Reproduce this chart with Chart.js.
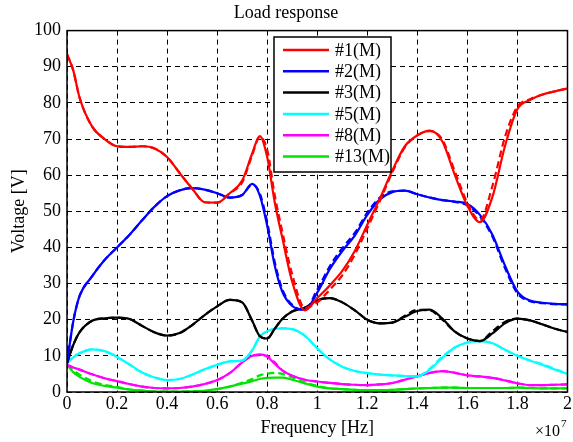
<!DOCTYPE html>
<html lang="en">
<head>
    <meta charset="UTF-8">
    <title>Load response</title>
    <script src="https://cdn.jsdelivr.net/npm/chart.js@4.4.1/dist/chart.umd.min.js"></script>
    <style>
        html, body { margin: 0; padding: 0; background: #fff; }
        #wrap { width: 573px; height: 442px; }
    </style>
</head>
<body>
    <div id="wrap"><canvas id="loadChart" width="573" height="442"></canvas></div>

    <script>
        // frequency in units of 1e7 Hz (axis shows x10^7)
        const freq = [0, 0.025, 0.05, 0.1, 0.15, 0.2, 0.25, 0.3, 0.35, 0.4, 0.45, 0.5, 0.55, 0.6, 0.65, 0.7,
            0.74, 0.77, 0.8, 0.83, 0.86, 0.9, 0.95, 1.0, 1.05, 1.1, 1.15, 1.2, 1.25, 1.3, 1.35, 1.4,
            1.45, 1.5, 1.55, 1.6, 1.65, 1.7, 1.75, 1.8, 1.85, 1.9, 1.95, 2.0];

        // measured (M) - solid
        const load1M = [93.5, 89, 81.5, 73.5, 70, 68, 67.8, 68, 67.4, 65, 60.6, 56.3, 52.5, 52.4, 55, 58.5,
            66, 70.8, 65, 52.5, 42.8, 30.5, 22.6, 26, 29.5, 33.5, 39, 46.3, 53.5, 61.3, 68, 71,
            72.3, 69.3, 60, 51.5, 47, 54, 68, 78.3, 80.8, 82.3, 83.2, 84];
        const load2M = [8, 19.5, 26.5, 32, 36.5, 40, 43.5, 47.5, 51.3, 54.2, 55.8, 56.4, 56, 55, 53.8, 54.5,
            57.6, 54.5, 46, 35, 27.8, 23.8, 22.7, 27.5, 34, 39, 43.3, 49, 53.3, 55.3, 55.7, 54.7,
            53.8, 53.1, 52.7, 52, 49, 43.5, 35, 27.8, 25.3, 24.7, 24.4, 24.3];
        const load3M = [8, 13, 16.5, 19.7, 20.4, 20.6, 20.2, 18.3, 16.5, 15.6, 16.3, 18.5, 21.3, 23.7, 25.5, 24.8,
            19.7, 15.5, 14.8, 17.5, 20.2, 22.3, 23.3, 25.4, 26, 24.8, 22.6, 20, 19, 19.2, 20.8, 22.4,
            22.8, 20.3, 16.7, 14.8, 14.1, 16.2, 19, 20.3, 19.8, 18.7, 17.5, 16.6];
        const load5M = [8, 9.6, 10.7, 11.8, 11.3, 9.7, 7.6, 5.4, 4, 3.3, 3.6, 4.8, 6.3, 7.5, 8.5, 8.7,
            11.5, 15.3, 16.8, 17.5, 17.6, 17.4, 15.6, 12.1, 9, 7, 5.8, 5.2, 4.8, 4.6, 4.4, 4.3,
            6.2, 9.5, 12.3, 13.7, 14.1, 13.5, 11.7, 10, 8.7, 7.5, 6.2, 5];
        const load8M = [7.5, 6.8, 6.2, 4.9, 3.8, 3, 2.2, 1.5, 1.1, 1, 1.1, 1.5, 2.2, 3.3, 5.2, 8.2,
            10, 10.4, 9.8, 7.8, 6, 4.5, 3.4, 2.9, 2.5, 2.2, 2, 1.9, 2.1, 2.5, 3.4, 4.4,
            5.3, 5.8, 5.3, 4.6, 4.3, 3.9, 3.2, 2.4, 1.9, 1.9, 2, 2.1];
        const load13M = [7.5, 5.5, 4.2, 2.5, 1.7, 1.2, 0.7, 0.4, 0.2, 0.1, 0.1, 0.2, 0.3, 0.8, 1.5, 2.3,
            3, 3.6, 3.9, 4, 4, 3.4, 2.4, 1.5, 1, 0.8, 0.6, 0.5, 0.5, 0.6, 0.8, 1,
            1.1, 1.2, 1.2, 1.1, 1.1, 1.1, 1.1, 1.2, 1.1, 1, 1, 1];

        // simulated - dashed
        const load1S = [93.5, 89, 81.5, 73.5, 70, 68, 67.8, 68, 67.4, 65, 60.6, 56.3, 52.5, 52.4, 55, 58,
            65.5, 70.5, 67, 54.5, 44.5, 32.5, 23.3, 24.8, 28.3, 32.3, 38, 45.3, 52.8, 60.8, 67.7, 71,
            72.2, 69.8, 61, 52.3, 47.5, 57, 70.5, 79, 81, 82.3, 83.2, 84];
        const load2S = [8, 19.5, 26.5, 32, 36.5, 40, 43.5, 47.5, 51.3, 54.2, 55.8, 56.4, 56, 55, 53.8, 54.5,
            57.4, 55, 47, 36, 28.5, 24.1, 22.8, 28.3, 34.8, 39.8, 44, 49.6, 53.8, 55.5, 55.7, 54.7,
            53.8, 53.1, 52.6, 51.6, 48.6, 43, 34.3, 27.3, 25.1, 24.6, 24.3, 24.2];
        const load3S = [8, 13, 16.5, 19.7, 20.4, 20.6, 20.2, 18.3, 16.5, 15.6, 16.3, 18.5, 21.3, 23.7, 25.5, 24.8,
            19.7, 15.5, 14.8, 17.5, 20.2, 22.3, 23.3, 25.4, 26, 24.8, 22.6, 20, 19, 19.2, 21.1, 22.7,
            22.6, 20, 16.7, 14.8, 14.1, 16.8, 19.4, 20.3, 19.8, 18.7, 17.5, 16.6];
        const load5S = [8, 9.6, 10.7, 11.8, 11.3, 9.7, 7.6, 5.4, 4, 3.3, 3.6, 4.8, 6.3, 7.5, 8.5, 8.7,
            11.5, 15.3, 16.8, 17.5, 17.6, 17.4, 15.6, 12.1, 9, 7, 5.8, 5.2, 4.8, 4.6, 4.4, 4.3,
            6.5, 9.8, 12.3, 13.7, 14.1, 13.5, 11.7, 10, 8.7, 7.7, 6.4, 5];
        const load8S = [7.5, 6.8, 6.2, 4.9, 3.8, 3, 2.2, 1.5, 1.1, 1, 1.1, 1.5, 2.2, 3.3, 5.2, 8.2,
            10, 10.2, 10, 8.2, 6, 4.5, 3.4, 2.9, 2.5, 2.2, 2, 1.9, 2.1, 2.5, 3.4, 4.4,
            5.3, 5.8, 5.3, 4.6, 4.3, 3.9, 3.2, 2.4, 1.9, 1.9, 2, 2.1];
        const load13S = [7.5, 6, 4.8, 3, 2, 1.4, 0.7, 0.4, 0.2, 0.1, 0.1, 0.2, 0.3, 0.8, 1.5, 2.6,
            3.6, 4.6, 5.1, 5.3, 5, 4, 2.7, 1.7, 1, 0.8, 0.6, 0.5, 0.5, 0.6, 0.8, 1,
            1.1, 1.2, 1.2, 1.1, 1.1, 1.1, 1.1, 1.2, 1.1, 1, 1, 1];

        const seriesNames = ['#1(M)', '#2(M)', '#3(M)', '#5(M)', '#8(M)', '#13(M)'];
        const seriesColors = ['#ff0000', '#0000ff', '#000000', '#00ffff', '#ff00ff', '#00e400'];
        const measured = [load1M, load2M, load3M, load5M, load8M, load13M];
        const simulated = [load1S, load2S, load3S, load5S, load8S, load13S];

        const FONT = 'Liberation Serif';

        function toPoints(arr) {
            return freq.map((f, i) => ({ x: f, y: arr[i] }));
        }

        const datasets = [];
        seriesNames.forEach((name, i) => {
            datasets.push({
                label: name, data: toPoints(measured[i]), borderColor: seriesColors[i],
                borderWidth: 2.2, pointRadius: 0, cubicInterpolationMode: 'monotone', fill: false
            });
            datasets.push({
                label: name.replace('(M)', '(S)'), data: toPoints(simulated[i]), borderColor: seriesColors[i],
                borderWidth: 2.2, borderDash: [7, 4], pointRadius: 0, cubicInterpolationMode: 'monotone', fill: false
            });
        });

        // frame round the plot area + legend box + x10^7 note
        const extras = {
            id: 'extras',
            afterDraw(chart) {
                const { ctx, chartArea: a } = chart;
                ctx.save();
                ctx.strokeStyle = '#000';
                ctx.lineWidth = 1.5;
                ctx.setLineDash([]);
                ctx.strokeRect(a.left, a.top, a.right - a.left, a.bottom - a.top);

                // legend
                const lx = 274, ly = 37, lw = 117, lh = 135;
                ctx.fillStyle = '#fff';
                ctx.fillRect(lx, ly, lw, lh);
                ctx.strokeRect(lx, ly, lw, lh);
                ctx.font = '18px "' + FONT + '"';
                ctx.textBaseline = 'middle';
                ctx.textAlign = 'left';
                seriesNames.forEach((name, i) => {
                    const y = 50 + i * 21.3;
                    ctx.strokeStyle = seriesColors[i];
                    ctx.lineWidth = 2.5;
                    ctx.beginPath();
                    ctx.moveTo(283, y);
                    ctx.lineTo(329, y);
                    ctx.stroke();
                    ctx.fillStyle = '#000';
                    ctx.fillText(name, 335, y + 1);
                });

                // exponent label
                ctx.fillStyle = '#000';
                ctx.textBaseline = 'alphabetic';
                ctx.font = '16px "' + FONT + '"';
                ctx.fillText('\u00d710', 535, 436);
                ctx.font = '11px "' + FONT + '"';
                ctx.fillText('7', 561, 427);
                ctx.restore();
            }
        };

        new Chart(document.getElementById('loadChart'), {
            type: 'line',
            data: { datasets },
            plugins: [extras],
            options: {
                responsive: false,
                animation: false,
                layout: { padding: { right: 1 } },
                plugins: {
                    legend: { display: false },
                    tooltip: { enabled: false },
                    title: {
                        display: true, text: 'Load response', color: '#000',
                        font: { family: FONT, size: 18, weight: 'normal' },
                        padding: { top: 2, bottom: 7 }
                    }
                },
                scales: {
                    x: {
                        type: 'linear', min: 0, max: 2,
                        afterFit: s => { s.height = 50; },
                        ticks: {
                            stepSize: 0.2, color: '#000', padding: 1, maxRotation: 0,
                            font: { family: FONT, size: 18 },
                            callback: v => String(Math.round(v * 10) / 10)
                        },
                        grid: { color: '#000', lineWidth: 1, drawTicks: false },
                        border: { display: false, dash: [5, 4] },
                        title: {
                            display: true, text: 'Frequency [Hz]', color: '#000',
                            font: { family: FONT, size: 18 }, padding: { top: 3, bottom: 3 }
                        }
                    },
                    y: {
                        min: 0, max: 100,
                        afterFit: s => { s.width = 67; },
                        ticks: {
                            stepSize: 10, color: '#000', padding: 6,
                            font: { family: FONT, size: 18 }
                        },
                        grid: { color: '#000', lineWidth: 1, drawTicks: false },
                        border: { display: false, dash: [5, 4] },
                        title: {
                            display: true, text: 'Voltage [V]', color: '#000',
                            font: { family: FONT, size: 18 }, padding: { top: 8, bottom: 8 }
                        }
                    }
                }
            }
        });
    </script>
</body>
</html>
